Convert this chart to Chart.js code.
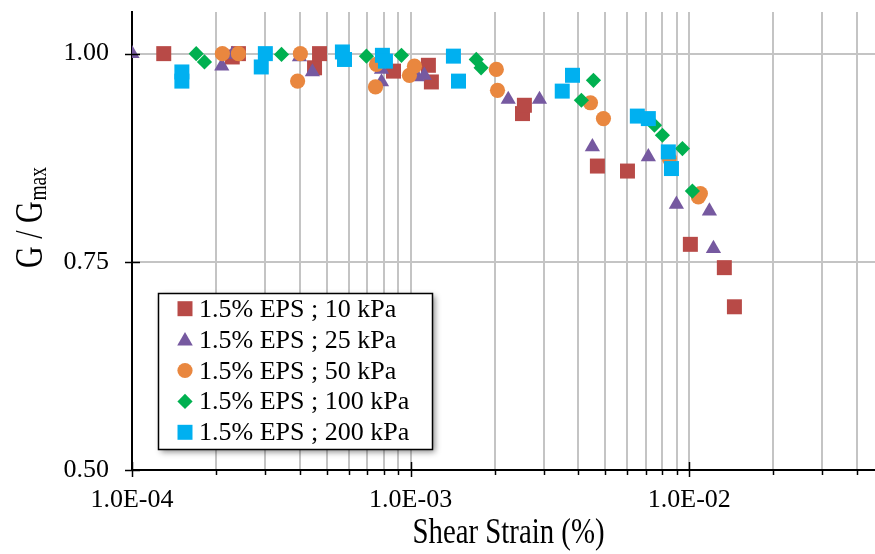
<!DOCTYPE html>
<html><head><meta charset="utf-8">
<script src="https://cdn.jsdelivr.net/npm/chart.js@4.4.0/dist/chart.umd.min.js"></script>
<style>html,body{margin:0;padding:0;background:#fff;overflow:hidden}#wrap{width:875px;height:554px}</style>
</head><body><div id="wrap"><canvas id="c" width="875" height="554"></canvas></div>
<script>
// ---------- data ----------
const seriesLabels = ["1.5% EPS ; 10 kPa", "1.5% EPS ; 25 kPa", "1.5% EPS ; 50 kPa", "1.5% EPS ; 100 kPa", "1.5% EPS ; 200 kPa"];

const strain10 = [1.30e-4, 2.29e-4, 2.41e-4, 4.52e-4, 4.71e-4, 8.68e-4, 1.158e-3, 1.187e-3, 2.52e-3, 2.56e-3, 4.68e-3, 6.00e-3, 1.009e-2, 1.336e-2, 1.452e-2];
const ratio10  = [1.000, 0.996, 1.000, 0.983, 1.000, 0.979, 0.986, 0.966, 0.928, 0.938, 0.865, 0.859, 0.771, 0.743, 0.696];

const strain25 = [1.00e-4, 2.10e-4, 2.29e-4, 3.99e-4, 4.44e-4, 7.86e-4, 7.86e-4, 1.057e-3, 1.12e-3, 2.24e-3, 2.90e-3, 4.49e-3, 7.13e-3, 8.99e-3, 1.181e-2, 1.221e-2];
const ratio25  = [1.000, 0.985, 0.999, 0.996, 0.978, 0.981, 0.966, 0.972, 0.974, 0.945, 0.945, 0.888, 0.876, 0.819, 0.811, 0.766];

const strain50 = [2.11e-4, 2.41e-4, 3.93e-4, 4.02e-4, 7.48e-4, 7.54e-4, 9.90e-4, 1.032e-3, 2.03e-3, 2.05e-3, 4.42e-3, 4.92e-3, 8.48e-3, 1.078e-2, 1.096e-2];
const ratio50  = [1.000, 1.000, 0.967, 1.000, 0.960, 0.987, 0.974, 0.985, 0.981, 0.956, 0.941, 0.922, 0.874, 0.828, 0.832];

const strain100 = [1.70e-4, 1.82e-4, 3.44e-4, 6.94e-4, 9.27e-4, 1.72e-3, 1.79e-3, 4.10e-3, 4.53e-3, 7.50e-3, 8.01e-3, 9.45e-3, 1.026e-2];
const ratio100  = [1.000, 0.990, 0.999, 0.997, 0.998, 0.993, 0.983, 0.944, 0.968, 0.914, 0.902, 0.886, 0.835];

const strain200 = [1.51e-4, 1.51e-4, 2.91e-4, 3.01e-4, 5.69e-4, 5.79e-4, 7.92e-4, 8.12e-4, 1.424e-3, 1.485e-3, 3.50e-3, 3.81e-3, 6.51e-3, 7.13e-3, 8.41e-3, 8.63e-3];
const ratio200  = [0.978, 0.967, 0.984, 1.000, 1.002, 0.993, 0.998, 0.991, 0.997, 0.967, 0.955, 0.974, 0.925, 0.922, 0.882, 0.862];

const xTickValues = [1e-4,2e-4,3e-4,4e-4,5e-4,6e-4,7e-4,8e-4,9e-4,
                     1e-3,2e-3,3e-3,4e-3,5e-3,6e-3,7e-3,8e-3,9e-3,
                     1e-2,2e-2,3e-2,4e-2];
const xLabelValues = [1e-4, 1e-3, 1e-2];
const yTickValues = [0.50, 0.75, 1.00];
const xTitle = "Shear Strain (%)";
const yTitleMain = "G / G";
const yTitleSub = "max";

// ---------- styles ----------
const colors = ["#B84A47", "#7659A0", "#E9873F", "#00B050", "#00B0F0"];
const shapes = ["rect", "triangle", "circle", "rectRot", "rect"];
const radii = [10.6, 8.8, 7.6, 7.6, 10.6];
const serif = '"Liberation Serif", "Times New Roman", serif';

const strains = [strain10, strain25, strain50, strain100, strain200];
const ratios = [ratio10, ratio25, ratio50, ratio100, ratio200];

const datasets = seriesLabels.map((lab, i) => ({
  label: lab,
  data: strains[i].map((x, k) => ({x: x, y: ratios[i][k]})),
  pointStyle: shapes[i],
  pointRadius: radii[i],
  pointHoverRadius: radii[i],
  backgroundColor: colors[i],
  borderColor: colors[i],
  borderWidth: 0,
  showLine: false,
  order: 5 - i
}));

function fmtExp(v){
  const e = Math.round(Math.log10(v));
  const s = e < 0 ? '-' : '+';
  return '1.0E' + s + String(Math.abs(e)).padStart(2,'0');
}
function isLabelVal(v){ return xLabelValues.some(d => Math.abs(v/d - 1) < 1e-6); }

function drawMarker(ctx, shape, r, x, y, color){
  ctx.fillStyle = color;
  ctx.beginPath();
  if (shape === 'rect') { const s = r*Math.SQRT1_2; ctx.rect(x-s, y-s, 2*s, 2*s); }
  else if (shape === 'circle') { ctx.arc(x, y, r, 0, Math.PI*2); }
  else if (shape === 'triangle') {
    for (let k=0;k<3;k++){ const a = k*2*Math.PI/3; const px = x+Math.sin(a)*r, py = y-Math.cos(a)*r; k?ctx.lineTo(px,py):ctx.moveTo(px,py); }
    ctx.closePath();
  } else if (shape === 'rectRot') {
    ctx.moveTo(x-r,y); ctx.lineTo(x,y-r); ctx.lineTo(x+r,y); ctx.lineTo(x,y+r); ctx.closePath();
  }
  ctx.fill();
}

const decor = {
  id: 'decor',
  afterDraw(chart){
    const ctx = chart.ctx;
    const xs = chart.scales.x, ys = chart.scales.y;
    const ax = chart.chartArea.left, ay = chart.chartArea.bottom;
    ctx.save();
    ctx.strokeStyle = '#000'; ctx.lineWidth = 1.5;
    yTickValues.forEach(v => {
      const py = Math.round(ys.getPixelForValue(v)) + 0.5;
      ctx.beginPath(); ctx.moveTo(ax-7, py); ctx.lineTo(ax+8, py); ctx.stroke();
    });
    xTickValues.forEach(v => {
      const px = Math.round(xs.getPixelForValue(v)) + 0.5;
      ctx.beginPath();
      if (isLabelVal(v)) { ctx.moveTo(px, ay-8); ctx.lineTo(px, ay+7); }
      else { ctx.moveTo(px, ay); ctx.lineTo(px, ay+5); }
      ctx.stroke();
    });
    ctx.fillStyle = '#000';
    ctx.save();
    ctx.font = '36px ' + serif;
    ctx.textAlign = 'center'; ctx.textBaseline = 'alphabetic';
    ctx.translate(508.5, 543); ctx.scale(0.8, 1);
    ctx.fillText(xTitle, 0, 0);
    ctx.restore();
    ctx.save();
    ctx.translate(42, 268); ctx.rotate(-Math.PI/2); ctx.scale(0.75, 1);
    ctx.textAlign = 'left'; ctx.textBaseline = 'alphabetic';
    ctx.font = '40px ' + serif;
    ctx.fillText(yTitleMain, 0, 0);
    const w = ctx.measureText(yTitleMain).width;
    ctx.font = '26px ' + serif;
    ctx.fillText(yTitleSub, w + 1, 4);
    ctx.restore();
    const L = 158, T = 293, W = 274, H = 156;
    ctx.save();
    ctx.shadowColor = 'rgba(0,0,0,0.45)'; ctx.shadowBlur = 6; ctx.shadowOffsetX = 3; ctx.shadowOffsetY = 3;
    ctx.fillStyle = '#fff'; ctx.fillRect(L, T, W, H);
    ctx.restore();
    ctx.strokeStyle = '#000'; ctx.lineWidth = 1.5;
    ctx.strokeRect(L+0.5, T+0.5, W, H);
    ctx.font = '26px ' + serif;
    ctx.textAlign = 'left'; ctx.textBaseline = 'alphabetic';
    seriesLabels.forEach((lab, i) => {
      const base = 316.7 + i*30.9;
      const lr = shapes[i] === 'rect' ? 10.6 : (shapes[i]==='triangle' ? 9 : 7.6);
      drawMarker(ctx, shapes[i], lr, 185, base - 8 + (shapes[i]==='triangle'?1.5:0), colors[i]);
      ctx.fillStyle = '#000';
      ctx.fillText(lab, 199, base);
    });
    ctx.restore();
  }
};

new Chart(document.getElementById('c'), {
  type: 'scatter',
  data: { datasets },
  options: {
    responsive: false, devicePixelRatio: 1, animation: false,
    events: [],
    layout: { autoPadding: false, padding: { top: 12, right: 0, left: 0, bottom: 0 } },
    plugins: { legend: { display: false }, tooltip: { enabled: false } },
    scales: {
      x: {
        type: 'logarithmic', position: 'bottom', min: 1e-4, max: 0.0464,
        afterFit(s){ s.height = 84; s.paddingLeft = 0; s.paddingRight = 0; },
        afterBuildTicks(s){ s.ticks = xTickValues.map(v => ({value: v})); },
        ticks: {
          autoSkip: false, maxRotation: 0, minRotation: 0, padding: 15,
          color: '#000', font: { family: serif, size: 26 },
          callback(v){ return isLabelVal(v) ? fmtExp(v) : ''; }
        },
        grid: { color: '#C4C4C4', lineWidth: 2, drawTicks: false },
        border: { display: true, color: '#000', width: 2 }
      },
      y: {
        type: 'linear', min: 0.5, max: 1.05,
        afterFit(s){ s.width = 132; s.paddingTop = 0; s.paddingBottom = 0; },
        afterBuildTicks(s){ s.ticks = yTickValues.map(v => ({value: v})); },
        ticks: {
          padding: 23, color: '#000', font: { family: serif, size: 26 },
          callback(v){ return Number(v).toFixed(2); }
        },
        grid: { color: (c) => c.tick && c.tick.value === 0.5 ? 'rgba(0,0,0,0)' : '#C4C4C4', lineWidth: 2, drawTicks: false },
        border: { display: true, color: '#000', width: 2 }
      }
    }
  },
  plugins: [decor]
});
</script>
</body></html>
